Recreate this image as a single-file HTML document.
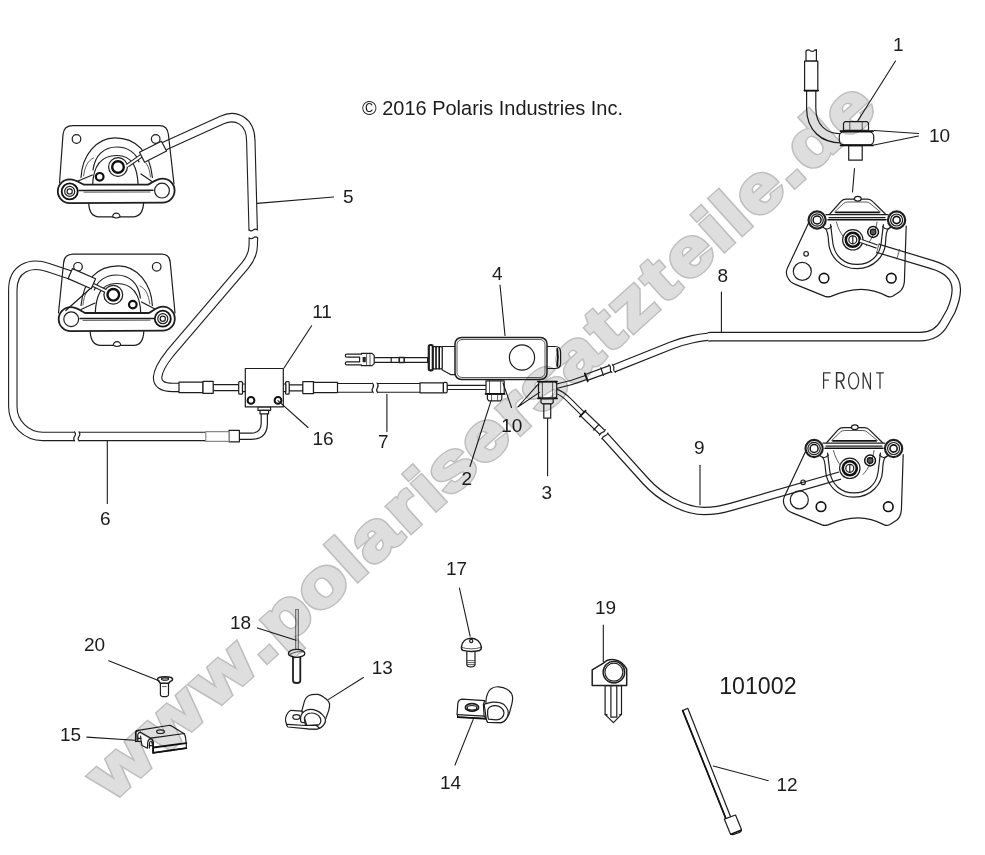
<!DOCTYPE html>
<html>
<head>
<meta charset="utf-8">
<title>Brake lines diagram</title>
<style>
html,body{margin:0;padding:0;background:#fff;}
body{width:985px;height:855px;overflow:hidden;font-family:"Liberation Sans",sans-serif;}
svg{display:block;position:absolute;left:0;top:0;}
.o{fill:#fff;stroke:#1e1e1e;stroke-width:1.2;stroke-linejoin:round;stroke-linecap:round;}
.n{fill:none;stroke:#1e1e1e;stroke-width:1.2;stroke-linejoin:round;stroke-linecap:round;}
.k{fill:none;stroke:#111;stroke-width:2.2;stroke-linejoin:round;stroke-linecap:round;}
.h{fill:none;stroke:#333;stroke-width:.8;stroke-linejoin:round;stroke-linecap:round;}
.ld{fill:none;stroke:#1a1a1a;stroke-width:1.1;stroke-linecap:round;}
.to{fill:none;stroke:#1e1e1e;stroke-width:9.5;stroke-linejoin:round;stroke-linecap:butt;}
.ti{fill:none;stroke:#fff;stroke-width:7.3;stroke-linejoin:round;stroke-linecap:butt;}
.so{fill:none;stroke:#1e1e1e;stroke-width:5.4;stroke-linejoin:round;stroke-linecap:butt;}
.si{fill:none;stroke:#fff;stroke-width:3.2;stroke-linejoin:round;stroke-linecap:butt;}
text{font-family:"Liberation Sans",sans-serif;fill:#1c1c1c;}
.lb{font-size:19px;}
.wm{font-family:"Liberation Sans",sans-serif;font-weight:bold;font-size:66px;stroke-linejoin:miter;}
.wa{fill:#bfbfbf;stroke:#bfbfbf;stroke-width:5;}
.wb{fill:#dedede;stroke:#dedede;stroke-width:2.2;}
#wmk{mix-blend-mode:multiply;}
</style>
</head>
<body>
<svg width="985" height="855" viewBox="0 0 985 855">
<rect x="0" y="0" width="985" height="855" fill="#fff"/>

<!-- ================= TUBES ================= -->
<g id="tubes">
<!-- hose 5 upper part -->
<path class="to" d="M163,146.8 L222,120 C236,113.6 250.8,121 250.8,141 L253.2,230"/>
<path class="ti" d="M163,146.8 L222,120 C236,113.6 250.8,121 250.8,141 L253.2,230.6"/>
<!-- hose 5 lower part -->
<path class="to" d="M253.4,237.8 L253.2,246 C253,254 250,259.6 245,265.6 L170,353.4 C156,371 150,387.4 173,387.4 L180,387.4"/>
<path class="ti" d="M253.4,237.2 L253.2,246 C253,254 250,259.6 245,265.6 L170,353.4 C156,371 150,387.4 173,387.4 L180.6,387.4"/>
<!-- hose 6 -->
<path class="to" d="M70.5,275 L48,267.5 C30,261.5 12.8,268 12.8,290 L12.8,406.4 A30,30 0 0 0 42.8,436.4 L74.6,436.4"/>
<path class="ti" d="M71,275.2 L48,267.5 C30,261.5 12.8,268 12.8,290 L12.8,406.4 A30,30 0 0 0 42.8,436.4 L75.2,436.4"/>
<path class="to" d="M79,436.4 L206,436.4"/>
<path class="ti" d="M78.4,436.4 L206.6,436.4"/>
<!-- hose 7 -->
<path class="to" style="stroke-width:9.8" d="M337,387.85 L372.4,387.85"/>
<path class="ti" style="stroke-width:7.6" d="M336,387.85 L373,387.85"/>
<path class="to" style="stroke-width:9.8" d="M377.4,387.85 L421,387.85"/>
<path class="ti" style="stroke-width:7.6" d="M376.8,387.85 L421.6,387.85"/>
<!-- hose 8 -->
<path class="to" style="stroke-width:7.6" d="M587,377.2 L610.4,368.6"/><path class="ti" style="stroke-width:5.2" d="M586.4,377.4 L611,368.4"/>
<path class="to" style="stroke-width:9.6" d="M708,336.9 L712,336.6 L920,336.6 C932,336.6 940,331 944.5,322.5 L951,311 C954,304 956.2,298 956.3,290 C956.5,277 946,268.6 932,264.6 L878,248.4"/>
<path class="to" style="stroke-width:8.4" d="M613.6,368.6 L671,345.6 C684,340.4 702,336.8 712,336.6"/>
<path class="ti" style="stroke-width:7.2" d="M708,336.9 L712,336.6 L920,336.6 C932,336.6 940,331 944.5,322.5 L951,311 C954,304 956.2,298 956.3,290 C956.5,277 946,268.6 932,264.6 L877.4,248.2"/>
<path class="ti" style="stroke-width:6" d="M613,368.8 L671,345.6 C684,340.4 702,336.8 712.4,336.6"/>

<!-- hose 9 -->
<path class="to" style="stroke-width:7.6" d="M583,413.8 L602.4,432.4"/><path class="ti" style="stroke-width:5.2" d="M582.6,413.4 L602.8,432.8"/>
<path class="to" style="stroke-width:8.6" d="M604.6,435.6 L646,481.5 C658,494.8 682,511 704,511 C716,511 724,509 732,506.6 L840,475.6"/>
<path class="ti" style="stroke-width:6.2" d="M604.2,435.1 L646,481.5 C658,494.8 682,511 704,511 C716,511 724,509 732,506.6 L841,475.3"/>
</g>



<!-- break marks -->
<g class="n" style="stroke-width:1.1">
<path d="M74.6,431.8 q1.8,2.3 0,4.6 q-1.8,2.3 0,4.6"/><path d="M79,431.8 q1.8,2.3 0,4.6 q-1.8,2.3 0,4.6"/>
<path d="M372.4,383 q2.2,2.4 .4,4.85 q-1.8,2.4 .4,4.85"/><path d="M377,383 q2.2,2.4 .4,4.85 q-1.8,2.4 .4,4.85"/>
<path d="M248.9,230 q2.1,1.8 4.3,0 q2.1,-1.8 4.3,0"/><path d="M249.1,237.8 q2.1,1.8 4.3,0 q2.1,-1.8 4.3,0"/>
</g>

<!-- ================= LEFT CALIPERS ================= -->
<g id="calTL">
<!-- plate -->
<path class="n" d="M59.5,183 L63,134.5 Q63.8,125.6 72.9,125.6 L159.4,125.6 Q167.6,125.6 168.4,134.5 L174,184"/>
<circle class="o" cx="76.5" cy="139" r="4.3"/><circle class="o" cx="155.7" cy="139" r="4.3"/>
<!-- arches -->
<path class="n" d="M81,177.5 C82,156 96,137.8 115,137.8 C136,137.8 150,152 152.4,177.5"/>
<path class="n" d="M93,170 C95,155 104,147 116.8,147 C128,147 136,153 139,162"/>
<path class="n" d="M92.6,186 C93,168 100,155.5 116.8,155.5 C133,155.5 137.5,168 138.2,186"/>
<path class="h" d="M83.5,176 C85,166 88,160.5 93.5,158 M146,163 C149,167 150,172 150.4,177"/>
<!-- arms -->
<path class="n" d="M78,181 L92.4,175 M141,174 L152,181.5"/>
<!-- bridge -->
<path class="o" style="stroke-width:1.8" d="M69.7,179.4 C76,179.4 80,183 84,184.7 L148,184.7 C152,183 156,178.6 162.6,178.6 A12,12 0 0 1 162.6,202.6 L69.7,203.2 A11.9,11.9 0 0 1 69.7,179.4 Z"/>
<path class="n" style="stroke-width:1.5" d="M79,190.4 L153,190.2"/><path class="h" d="M84,192.2 L150,192"/>
<circle class="k" style="stroke-width:1.8" cx="69.7" cy="191.4" r="8"/><circle class="n" cx="69.7" cy="191.4" r="5"/><circle class="n" cx="69.7" cy="191.4" r="2.6"/>
<circle class="n" cx="162" cy="190.6" r="7.4"/>
<!-- tab -->
<path class="n" d="M88.7,203.4 Q89.5,216.8 99,216.8 L133,216.8 Q142.5,216.8 143.6,203.4"/>
<path class="o" d="M112.6,216.8 A3.7,3.7 0 0 1 120,216.8 Q116.3,219.2 112.6,216.8Z"/>
<!-- boss / bleeder -->
<circle class="o" cx="118" cy="167" r="9.4"/><circle class="k" style="stroke-width:2.4" cx="118" cy="167" r="5.8"/>
<circle class="k" style="stroke-width:2.2" cx="99.7" cy="176.8" r="3.8"/>
<!-- nozzle + sleeve -->
<path class="so" style="stroke-width:4.2" d="M127.5,165.6 L142,155.4"/><path class="si" style="stroke-width:2" d="M126.5,166.3 L142,155.4"/>
<path class="o" d="M139.5,152.3 L161.4,141.2 L166.6,151 L144.6,162.3 Z"/>
</g>

<g id="calBL">
<path class="n" d="M58.5,313 L63.6,263 Q64.4,254.1 73.1,254.1 L162,254.1 Q169.6,254.1 170.3,263 L175,313"/>
<circle class="o" cx="78" cy="266.8" r="4.3"/><circle class="o" cx="156.7" cy="266.8" r="4.3"/>
<path class="n" d="M152.4,305.5 C151.4,284 137.4,265.8 118.4,265.8 C97.4,265.8 83.4,280 81,305.5"/>
<path class="n" d="M140.4,298 C138.4,283 129.4,275 116.6,275 C105.4,275 97.4,281 94.4,290"/>
<path class="n" d="M140.8,314 C140.4,296 133.4,283.5 116.6,283.5 C100.4,283.5 95.9,296 95.2,314"/>
<path class="h" d="M149.9,304 C148.4,294 145.4,288.5 139.9,286 M87.4,291 C84.4,295 83.4,300 83,305"/>
<path class="n" d="M81,309.5 L95,303 M141.5,302 L156,309.5"/>
<path class="o" style="stroke-width:1.8" d="M70.7,307.2 C77,307.2 81,311 85,313 L149,313 C153,311 157,306.7 162.8,306.7 A12,12 0 0 1 162.8,330.7 L70.7,331.2 A12,12 0 0 1 70.7,307.2 Z"/>
<path class="n" style="stroke-width:1.5" d="M80,318.6 L154,318.4"/><path class="h" d="M83,320.4 L150,320.2"/>
<circle class="n" cx="71.2" cy="319.2" r="7.4"/>
<circle class="k" style="stroke-width:1.8" cx="162.8" cy="318.7" r="8"/><circle class="n" cx="162.8" cy="318.7" r="5"/><circle class="n" cx="162.8" cy="318.7" r="2.6"/>
<path class="n" d="M90.2,331.6 Q91,345.3 100.5,345.3 L134,345.3 Q143,345.3 143.8,331.6"/>
<path class="o" d="M113.3,345.3 A3.7,3.7 0 0 1 120.7,345.3 Q117,347.7 113.3,345.3Z"/>
<path class="n" d="M93.8,285.5 L65.8,310.5"/>
<circle class="o" cx="113.3" cy="294.8" r="9.4"/><circle class="k" style="stroke-width:2.4" cx="113.3" cy="294.8" r="5.8"/>
<circle class="k" style="stroke-width:2.2" cx="132.8" cy="304.6" r="3.8"/>
<path class="so" style="stroke-width:4.2" d="M92,284.4 L105.5,290.8"/><path class="si" style="stroke-width:2" d="M92,284.4 L106.5,291.3"/>
<path class="o" d="M72.5,268.6 L95.6,278.8 L91.2,288.8 L68.1,278.6 Z"/>
</g>

<!-- ================= BLOCK 11 + fittings ================= -->
<g id="block">
<!-- left: sleeve, nut, rod, fitting -->
<rect class="o" x="213" y="384.6" width="26" height="6"/>
<rect class="o" x="179" y="382.2" width="24" height="10.4"/>
<rect class="o" x="203" y="381.4" width="10.2" height="12"/>
<rect class="o" x="238.7" y="381.6" width="3.8" height="12.6" rx="1"/>
<rect class="o" x="242.5" y="384" width="3" height="7.6"/>
<!-- right -->
<rect class="o" x="289" y="384.8" width="14" height="6"/>
<rect class="o" x="285.6" y="381.6" width="3.6" height="12.6" rx="1"/>
<rect class="o" x="283" y="384" width="2.8" height="7.6"/>
<rect class="o" x="302.8" y="381.6" width="10.7" height="12"/>
<rect class="o" x="313.5" y="382.4" width="24" height="10.2"/>
<!-- bottom -->
<path class="to" style="stroke-width:7.4" d="M264.3,413 L264.3,423 Q264.3,436.3 251,436.3 L239,436.3"/>
<path class="ti" style="stroke-width:5" d="M264.3,413 L264.3,423 Q264.3,436.3 251,436.3 L238,436.3"/>
<rect class="o" x="258" y="406.8" width="12.6" height="3.6"/>
<rect class="o" x="260" y="410.4" width="8.6" height="3.4"/>
<rect class="o" x="229" y="430.4" width="10.4" height="11.4"/>
<rect class="o" style="stroke:#8a8a8a" x="205.8" y="431.7" width="23.2" height="9.6"/>
<!-- body -->
<rect class="o" x="245.3" y="368.5" width="38" height="38.4"/>
<circle class="k" style="stroke-width:2" cx="251" cy="400.4" r="3.4"/>
<circle class="k" style="stroke-width:2" cx="278" cy="400.4" r="3.4"/>
</g>


<!-- ================= MASTER CYLINDER ================= -->
<g id="mc">
<!-- hose 7 right end: sleeve, cap, rod -->
<rect class="o" x="447" y="385.3" width="40" height="4.2"/>
<rect class="o" x="420" y="382.8" width="23.4" height="10"/>
<rect class="o" x="443.4" y="382.4" width="3.8" height="10.4" rx="1.4"/>
<!-- banjo 2 -->
<rect class="o" x="486" y="380.8" width="18.2" height="13"/>
<path class="h" d="M489.5,381 V393.6 M500.6,381 V393.6"/>
<path class="k" style="stroke-width:1.8" d="M485.6,393.9 H504.6"/>
<path class="o" d="M487.4,394.4 H501.8 V399 L500.4,400.8 H488.8 L487.4,399 Z"/>
<path class="h" d="M491.6,394.6 V400.6 M497.6,394.6 V400.6"/>
<!-- push rod + clevis -->
<rect class="o" x="372.6" y="357.6" width="55" height="4.8"/>
<rect class="o" x="399.2" y="357.6" width="5" height="4.8" style="stroke-width:1.5"/>
<path class="n" d="M391.2,357.6 V362.4"/>
<path class="o" d="M346.8,354.2 H361.5 V353.4 H372 L374.2,355.4 V363.6 L372,365.6 H361.5 V364.9 H346.8 A1.5,1.5 0 0 1 346.8,361.9 H359.6 V357.2 H346.8 A1.5,1.5 0 0 1 346.8,354.2 Z"/>
<rect x="362.6" y="357" width="3.2" height="5.2" fill="#222"/>
<path class="h" d="M366.6,354 V365.2 M370,354 V365.2"/>
<!-- boot + neck -->
<path class="o" d="M442,346.5 H456 V374.6 H450.5 L442,369.8 Z"/>
<rect class="o" x="432.4" y="346.6" width="9.8" height="22.2" rx="1.5"/>
<rect class="o" style="stroke-width:2.2" x="428.8" y="345" width="4" height="25.4" rx="1.6"/>
<path class="k" style="stroke-width:1.6" d="M436,346.8 V368.6 M439.2,346.8 V368.6"/>
<!-- right cap -->
<path class="o" d="M546,346.5 H555 Q560.6,346.5 560.6,352 V363 Q560.6,368.5 555,368.5 H546 Z"/>
<path class="k" style="stroke-width:1.8" d="M557.2,349 Q558.6,357.5 557.2,366"/>
<!-- body -->
<rect class="o" style="stroke-width:1.5" x="455" y="337.5" width="92" height="42" rx="6.5"/>
<rect class="h" x="457" y="339.5" width="88" height="38" rx="5"/>
<circle class="o" cx="522" cy="357.5" r="12.6"/>
<!-- banjo 3 -->
<path class="so" d="M556,386.4 Q572,383 587,377.2"/><path class="si" d="M555,386.6 Q572,383 587.6,377"/>
<path class="so" d="M556,391.4 C562,392.6 566,397 570,401 L583,413.8"/><path class="si" d="M555,391.2 C562,392.6 566,397 570,401 L583.5,414.3"/>
<rect class="o" x="538.5" y="381.6" width="18.2" height="16.6" rx="2.5"/>
<path class="k" style="stroke-width:1.8" d="M538,381.6 H557 M538,398.4 H557"/>
<path class="h" d="M542.4,382 V398 M552.6,382 V398"/>
<path class="o" d="M541,398.8 H553.2 V402.6 L551.8,403.8 H542.4 L541,402.6 Z"/>
<rect class="o" x="543.8" y="403.8" width="6.9" height="14.4"/>
</g>


<!-- ticks + breaks on hoses 8/9 -->
<g id="ticks">
<path class="k" style="stroke-width:1.7" d="M584.8,373.4 L587.8,381.4"/>
<path class="n" d="M600.8,367.8 L603.4,375.4"/>
<path class="k" style="stroke-width:1.7" d="M585.6,410.6 L579.8,416.6"/>
<path class="n" d="M599,424.4 L593.6,430"/>
<path class="n" style="stroke-width:1.1" d="M608.85,364.7 Q611,366.1 610.4,368.6 T611.95,372.5 M612.25,364.6 Q614.4,366 613.8,368.5 T615.35,372.4"/>
<path class="n" style="stroke-width:1.1" d="M605.4,429.5 Q604.7,431.8 602.4,432.4 T599.4,435.3 M607.9,433 Q607.2,435.3 604.9,435.9 T601.9,438.8"/>
</g>

<!-- ================= RIGHT CALIPERS ================= -->
<defs>
<g id="calR">
<!-- bracket plate -->
<path class="n" d="M808.8,222.5 L787.2,268.6 Q784.6,275.2 790.6,281.6 Q792.6,283.4 796,284.6 L825,296.4 Q828,297.4 831,296.4 C842,291.8 852,289.4 861,289.4 C870,289.4 879,292 887.4,296.4 Q890,297.6 892.6,296.2 L899.6,291.8 Q903.6,288.6 904.4,281.6 L906.2,226"/>
<circle class="n" cx="806.1" cy="253.8" r="2.3"/><circle class="n" cx="802.3" cy="271.4" r="9"/>
<circle class="k" style="stroke-width:1.6" cx="824" cy="278.2" r="4.8"/><circle class="k" style="stroke-width:1.6" cx="891.3" cy="278.2" r="4.8"/>
<!-- hump -->
<path class="n" d="M829.8,214 L841,201.4 Q843,199.2 846.4,199.2 L867.4,199.2 Q870.6,199.2 872.8,201.6 L885.4,214"/>
<path class="h" d="M834.6,212 L843.6,203.4 Q845.2,202 847.6,202 L866,202 Q868.4,202 870,203.4 L880.4,212"/>
<ellipse class="o" cx="857.8" cy="198.8" rx="3.4" ry="2.4"/>
<!-- body cup -->
<path class="n" d="M825.4,228.6 C828,231 828.2,236 828.6,242 C829.4,256 840,268.6 857,268.6 C874,268.6 885,256 885.6,242 C885.8,236 886,231 888.4,228.6"/>
<path class="n" d="M830.6,224.6 C831.8,234 832.4,240 833,244 C835,256 844,264.4 857,264.4 C870,264.4 879.4,256 881,244 C881.6,240 882.2,234 883.4,224.6"/>
<path class="h" d="M836.4,222 C838,228 840.6,234 845,238.5 M877,222 C876,230 872,240 866,246"/>
<!-- bridge -->
<path class="k" style="stroke-width:1.8" d="M836,212.4 H879"/>
<path class="n" d="M826,214.6 H888 M829,217.6 H885"/>
<path class="k" style="stroke-width:1.6" d="M828,219.8 H886"/>
<!-- ears -->
<circle class="o" style="stroke-width:2.2" cx="817.1" cy="220" r="8.6"/><circle class="n" cx="817.1" cy="220" r="6.2"/><circle class="k" style="stroke-width:1.5" cx="817.1" cy="220" r="4"/>
<circle class="o" style="stroke-width:2.2" cx="896.6" cy="220" r="8.6"/><circle class="n" cx="896.6" cy="220" r="6"/><circle class="k" style="stroke-width:1.6" cx="896.6" cy="220" r="3.6"/>
<path class="n" d="M822.6,227 C826,230 829,229.4 831.4,226.6 M891,227 C888,230 885,229.4 882.6,226.6"/>
<!-- boss -->
<circle class="o" cx="852.8" cy="239.8" r="10.2"/><circle class="k" style="stroke-width:2.6" cx="852.8" cy="239.8" r="7"/><circle class="n" cx="852.8" cy="239.8" r="4"/><path class="n" d="M852.8,236 V243.6"/>
<!-- bleeder -->
<circle class="k" style="stroke-width:1.5" cx="873.1" cy="232" r="5.4"/><circle cx="873.1" cy="232" r="2.9" fill="#555" stroke="#111" stroke-width="1.1"/>
</g>
</defs>
<g id="calTR">
<use href="#calR"/>
<!-- hose 8 nozzle + sleeve -->
<path class="so" style="stroke-width:4.4" d="M861,241 L877,246.6"/><path class="si" style="stroke-width:2.2" d="M860,240.6 L877.6,246.8"/>
<path class="h" d="M879.2,243.4 L876.4,253.2 M899.6,249.6 L896.8,259"/>
</g>
<g id="calBR">
<use href="#calR" transform="translate(-3,228.5)"/>

</g>

<!-- ================= TOP RIGHT FITTING ================= -->
<g id="fit1">
<path class="to" style="stroke-width:10.4" d="M811.2,90 L811.2,108 C811.2,128 824,138.4 841,138.4"/>
<path class="ti" style="stroke-width:8" d="M811.2,90 L811.2,108 C811.2,128 824,138.4 842,138.4"/>
<path class="o" d="M806,61.2 V51 Q808.2,49 810.2,50.6 Q812.4,52.4 814.4,50.4 L816.4,49.6 V61.2 Z"/>
<rect class="o" x="804.6" y="61.2" width="13.2" height="29.4"/>
<path class="k" style="stroke-width:1.8" d="M804.4,90.6 H818"/>
<path class="h" d="M817.6,63 V69"/>
<!-- bolt stem -->
<rect class="o" x="848.7" y="145.6" width="13.5" height="14.6"/>
<!-- banjo -->
<rect class="o" x="839.3" y="131.8" width="34.4" height="13" rx="4.5"/>
<path class="k" style="stroke-width:1.8" d="M840.6,131.2 H873 M840.6,145.4 H873"/>
<!-- hex head -->
<path class="o" d="M843.5,130.4 V123.2 L845,121.6 H867 L868.5,123.2 V130.4 Z"/>
<path class="h" d="M849.8,121.8 V130.2 M862.2,121.8 V130.2"/>
</g>


<!-- ================= FRONT ================= -->
<g id="front" fill="none" stroke="#333" stroke-width="1.25" stroke-linecap="butt" stroke-linejoin="miter">
<path d="M823.6,388.8 V372.8 H830.6 M823.6,380.2 H828.8"/>
<path d="M836.6,388.8 V372.8 H840 Q844,372.8 844,377 Q844,381.2 840,381.2 H836.6 M840.4,381.2 L844.2,388.8" style="stroke-width:1.5"/>
<ellipse cx="853.6" cy="380.8" rx="5" ry="8.2"/>
<path d="M863.2,388.8 V372.4 L870.4,389.6 V372.4"/>
<path d="M876.2,372.8 H883.8 M880,372.8 V388.8"/>
</g>

<!-- ================= SMALL PARTS ================= -->
<g id="p20">
<path class="o" d="M160.4,682.6 V694.4 Q160.4,696.6 164.4,696.6 Q168.5,696.6 168.5,694.4 V682.6 Z"/>
<path class="o" style="stroke-width:1.5" d="M157.6,679.2 Q157.6,676.8 165,676.8 Q172.6,676.8 172.6,679.2 Q172.6,680.6 170.4,681.4 L168.6,683.2 H160.4 L158.8,681.2 Q157.6,680.4 157.6,679.2 Z"/>
<ellipse class="n" cx="165" cy="679" rx="3.6" ry="1.2"/>
<path class="h" d="M162.4,686.6 H166.2"/>
</g>
<g id="p18">
<rect x="295.6" y="609.6" width="2.8" height="41" fill="#dcdcdc" stroke="#6a6a6a" stroke-width=".8"/>
<path class="o" style="stroke-width:1.8" d="M293,657 V680.4 Q293,683 296.6,683 Q300.3,683 300.3,680.4 V657 Z"/>
<ellipse class="o" style="stroke-width:1.4" cx="296.6" cy="653.4" rx="8.2" ry="4"/>
<path class="h" d="M289.6,654.6 Q296.6,650.4 303.4,652"/>
</g>
<g id="p13">
<!-- back loop -->
<path class="o" d="M301.9,710.6 L304.4,701.4 C305,699.6 305.8,698.2 306.8,697.2 C308.2,695.8 310,695 311.7,694.7 C313.8,694.3 315.8,694.2 317.8,694.4 C320,694.8 322,695.8 323.8,697.2 C325.6,698.4 327.2,699.6 328.1,700.8 C329.2,702.2 329.6,703.6 329.6,705.1 C329.6,707 329.2,708.8 328.7,710.6 L323.8,724 C322.8,726 321.4,727.4 319.6,728.2 L316.5,729.2 L308,728.8 Z"/>
<!-- tab -->
<path class="o" d="M301.9,711.2 L291,710.3 Q288.4,711.4 286.7,714.8 Q285.3,717.6 285.5,720.3 L286.7,725.2 L287.9,727 L308,728.8 L316.5,729.2 L319.6,728.2 L317.8,725.2 L305.6,725.5 Z"/>
<path class="n" d="M287.4,724.4 L305.6,725.5 L317.8,725.2"/>
<!-- front band -->
<path class="o" d="M300.7,721.5 C300.4,719.4 300.4,717.4 301,715.5 C301.6,713.8 302.8,712.2 304.4,711.2 C306.2,710 308.4,709.4 310.5,709.4 C312.6,709.4 314.6,709.8 316.5,710.6 C319,711.6 321,713 322.6,714.8 C324,716.2 325.2,717.8 325.4,719.7 C325.6,721.4 325,723.2 323.8,724.6 C322.8,726.2 321.4,727.4 319.6,728.2 L316.5,725.5 C317.6,725.4 318.4,725.2 319,724.6 C320,723.8 320.8,722.8 320.8,721.5 C320.9,720.2 320.8,719 320.2,717.9 C319.4,716.4 318.2,715 316.5,714.2 C314.8,713.4 313,712.9 311.1,713 C309.2,713 307.4,713.6 306.2,714.8 C305,716 304.4,717.4 304.4,719.1 L305,722.2 Q302.6,723.2 300.7,721.5 Z"/>
<ellipse class="o" cx="296.4" cy="717" rx="3.6" ry="2.4"/>
</g>
<g id="p15">
<path class="o" d="M135.7,741.5 V732.7 Q135.9,730.6 138.1,730.4 L168.4,725.5 Q170.6,725.2 172.4,726.4 L183.4,733.2 Q185.4,734.6 185.6,738.1 L186.3,743.5 V748.2 L153.1,752.9 V742.4 Q152.8,739 150.8,738.6 Q148.4,739 147.8,742.1 L147.4,748.2 L142.1,745.5 L141.1,741.5 Z"/>
<path class="n" d="M150.8,738.2 L184.4,733.5 M140.4,732.2 L150.8,738.2"/>
<path class="k" style="stroke-width:1.8" d="M153.5,747.5 L186.3,743.1 M153.1,752.9 L186.3,748.2 M153.1,742.4 V752.9"/>
<path class="n" style="stroke-width:1.5" d="M135.7,741.5 V732.7 Q135.9,730.6 138.1,730.4"/>
<path class="n" d="M137.8,741.2 V734.6 Q138.2,732.6 140.4,732.2 M141.1,741.5 L140.6,736"/>
<path class="n" d="M149.4,748 V743.6 Q149.8,741.2 151,741 Q152,741.4 152.2,744"/>
<path class="n" d="M137.8,738.4 H140.8 M149.4,745.6 H152.6"/>
<ellipse class="n" cx="160.5" cy="731.7" rx="3.8" ry="1.8"/>
</g>
<g id="p17">
<path class="o" d="M466.8,651 V664.4 Q466.8,666.8 470.9,666.8 Q475,666.8 475,664.4 V651 Z"/>
<path class="h" d="M467,660.6 H475 M467,662.6 H475 M467,664.6 H475"/>
<path class="o" style="stroke-width:1.5" d="M461.4,647.2 C462,641.4 466,638.2 471,638.2 C476,638.2 480.6,641.4 481.4,647.2 Q481.4,649.6 479.6,650.4 Q471,652.6 463,650.4 Q461.2,649.6 461.4,647.2 Z"/>
<path class="h" d="M461.6,647.4 Q471,650.4 481.2,647.4"/>
<circle class="n" cx="471.2" cy="641" r="1.6"/>
</g>
<g id="p14">
<!-- back loop -->
<path class="o" d="M485.9,701.3 C486.2,697 487.8,692 490.5,689.2 C493,687 496,686.6 498.6,686.8 C502,687 505,688 506.9,689.2 C510,691 512.2,694 512.5,696.6 C512.8,699.6 512.4,702 511.8,704.2 L509.7,712 C508.8,715 507.6,717.4 506.1,719.1 C504.8,720.8 503,722 501.2,722.6 L487.7,722.3 L486.2,718.4 Z"/>
<!-- tab -->
<path class="o" d="M484.8,700.6 L462.1,699.2 Q458.4,699.6 457.8,703.5 L457.1,714.1 L457.8,717 L487,718.7 L484.1,716.2 L483.4,704.2 Z"/>
<path class="n" d="M457.4,714.6 L484.1,716.2"/>
<path class="k" style="stroke-width:1.8" d="M457.8,717.2 L487,718.9"/>
<!-- front loop -->
<path class="o" d="M484.1,704.2 C486,703.6 489,702.6 492.6,702.2 C495,701.9 497.6,702 499.8,702.7 C503,703.6 505,705.2 506.1,707 C507.6,709 508.4,711 508.3,712.7 C508.2,715 507.4,717.4 506.1,719.1 C504.8,720.8 503,722 501.2,722.6 L487.7,722.3 Q486.4,720.6 486.2,718.4 Z"/>
<path class="o" d="M487.7,709.9 C488.2,708.6 488.8,707.6 489.8,707 C491.4,706 493.4,705.6 495.5,705.6 C497.6,705.6 499.6,706.4 501.2,707.7 C502.8,709 504,710.8 504,712.7 C504,714.8 503.2,716.6 501.9,717.7 C500.4,719 498.4,719.8 496.2,719.8 L488.4,719.1 C487.6,716 487.4,713 487.7,709.9 Z"/>
<!-- hole -->
<ellipse class="o" style="stroke-width:1.7" cx="472" cy="707.4" rx="6.6" ry="3.8"/>
<ellipse class="n" cx="472" cy="707.8" rx="4.8" ry="2.3"/>
</g>
<g id="p19">
<path class="o" d="M605.1,685.6 V714.3 L613.4,722.6 L621.5,714.3 V685.6 Z"/>
<path class="n" d="M610.9,686 V717.2 H616.8 V686"/>
<path class="n" d="M605.1,714.3 L607.2,714.9 M621.5,714.3 L619.6,714.9"/>
<path class="o" style="stroke-width:1.5" d="M592.2,685.6 V669.8 L603.9,662.8 C608,658.6 620,656.6 626.7,669.2 V685.6 Z"/>
<circle class="o" style="stroke-width:1.4" cx="613.9" cy="672.2" r="10.8"/>
<circle class="n" cx="613.9" cy="672.2" r="9"/>
</g>
<g id="p12">
<path class="o" d="M682.7,710.6 L687.8,708.3 L730.8,817.3 L726.1,819.1 Z"/>
<path class="k" style="stroke-width:1.7" d="M682.7,710.6 L726.1,819.1"/>
<path class="o" d="M724.3,819.1 L735.5,815 L741.5,829.4 Q741.4,832 738,833 L733,834.6 Q730.8,834.8 730.2,833.4 Z"/>
<path class="k" style="stroke-width:1.6" d="M731,834.2 L741,830.2"/>
</g>

<!-- ================= LEADERS ================= -->
<g id="leaders" class="ld">
<path d="M895.5,61 L858,120.5"/>
<path d="M918.5,133.5 L874,130.5"/>
<path d="M918.5,136 L874,145"/>
<path d="M854.5,168.5 L852.5,192"/>
<path d="M257.2,203.4 L333.6,197"/>
<path d="M505,335.5 L500,285"/>
<path d="M721.4,292 L721.4,331.5"/>
<path d="M284,368 L311.6,325.8"/>
<path d="M278,400.7 L308,427.5"/>
<path d="M386.9,394.4 L386.9,431.5"/>
<path d="M491,400.9 L470,466.5"/>
<path d="M503,383 L511.5,407.5"/>
<path d="M517.8,407 L538.5,383.8 M517.8,407 L539.5,392.4"/>
<path d="M547.6,418.6 L547.6,475.8"/>
<path d="M700,465.3 L700,504.8"/>
<path d="M107.3,440.6 L107.3,503.5"/>
<path d="M459.4,588 L470.2,636.3"/>
<path d="M603.3,625 L603.3,661.7"/>
<path d="M257.4,628 L296,640.3"/>
<path d="M108.7,660.7 L159,680.8"/>
<path d="M328.6,699.4 L363.4,677.5"/>
<path d="M86.8,737.1 L134.6,740.2"/>
<path d="M473.1,719.6 L455,765"/>
<path d="M713.3,766 L768.3,780.7"/>
</g>

<!-- ================= LABELS ================= -->
<g id="labels">
<text x="362" y="114.6" font-size="20.5" textLength="261" lengthAdjust="spacingAndGlyphs">© 2016 Polaris Industries Inc.</text>
<text class="lb" x="893" y="51">1</text>
<text class="lb" x="929" y="141.5">10</text>
<text class="lb" x="343" y="202.8">5</text>
<text class="lb" x="492" y="280">4</text>
<text class="lb" x="717.5" y="281.7">8</text>
<text class="lb" x="312.2" y="318.4">11</text>
<text class="lb" x="312.5" y="445">16</text>
<text class="lb" x="378" y="448">7</text>
<text class="lb" x="501.3" y="432">10</text>
<text class="lb" x="461.6" y="485">2</text>
<text class="lb" x="541.5" y="499.4">3</text>
<text class="lb" x="694" y="454">9</text>
<text class="lb" x="100" y="524.5">6</text>
<text class="lb" x="446" y="574.5">17</text>
<text class="lb" x="595" y="613.5">19</text>
<text class="lb" x="230" y="629">18</text>
<text class="lb" x="84" y="651">20</text>
<text class="lb" x="371.8" y="674">13</text>
<text x="719.2" y="694" font-size="23.2">101002</text>
<text class="lb" x="60" y="741">15</text>
<text class="lb" x="440" y="789.2">14</text>
<text class="lb" x="776.5" y="791.4">12</text>
</g>

<!-- ================= WATERMARK ================= -->
<g id="wmk">
<g transform="translate(109.2,804.2) rotate(-42) scale(1.18,1)">
<text class="wm wa" x="3.4 61.6 119.7 176.1 196.6 237.7 279.3 300.1 340.2 368.8 387.4 424.8 464.8 491.6 529.1 569.8 595.6 632.3 658.2 697.3 717.6 738.3 777.9 798.4 840.7" y="0">www.polarisersatzteile.de</text>
<text class="wm wb" x="3.4 61.6 119.7 176.1 196.6 237.7 279.3 300.1 340.2 368.8 387.4 424.8 464.8 491.6 529.1 569.8 595.6 632.3 658.2 697.3 717.6 738.3 777.9 798.4 840.7" y="0">www.polarisersatzteile.de</text>
</g>
</g>
</svg>
</body>
</html>
